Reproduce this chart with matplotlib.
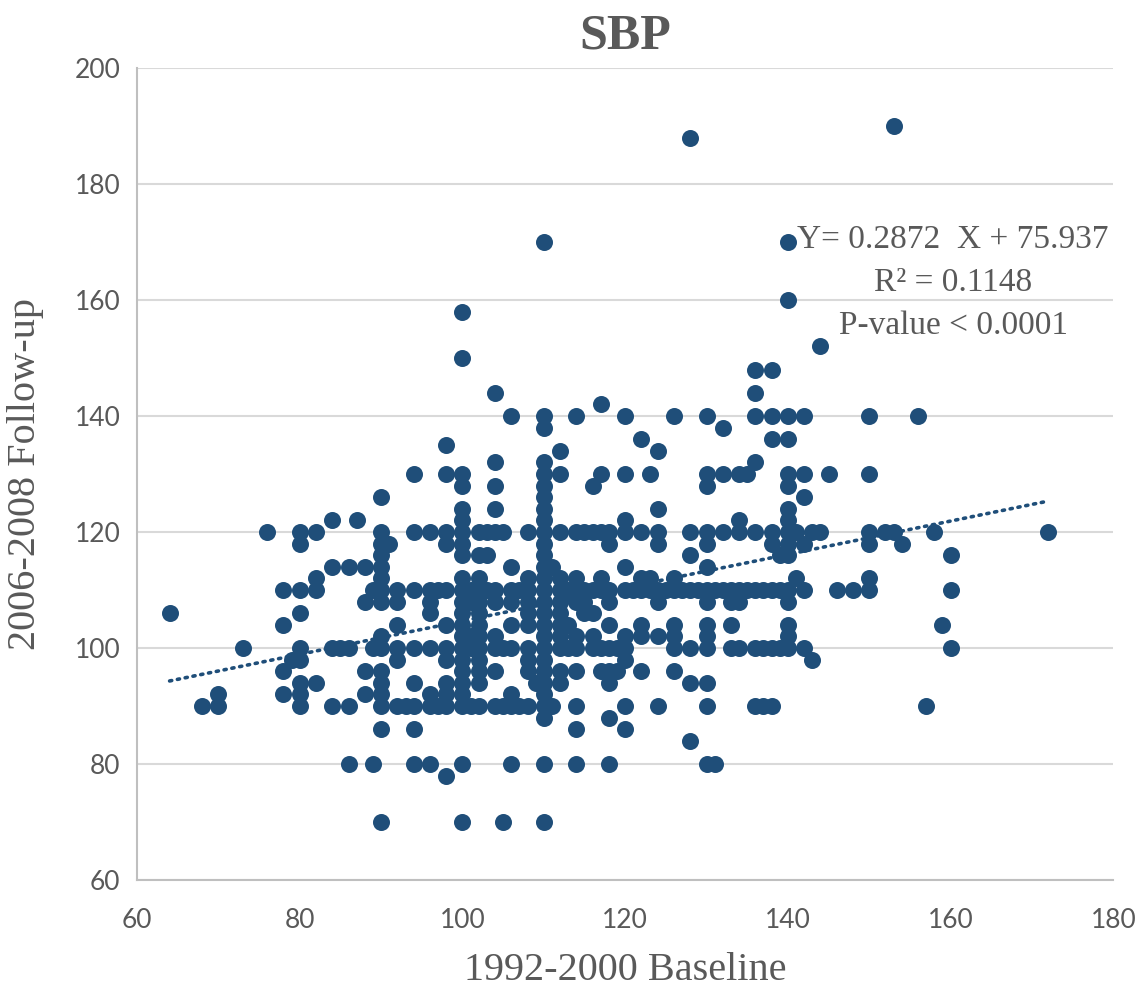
import matplotlib
matplotlib.use("Agg")
import matplotlib.pyplot as plt
import numpy as np

# Baseline SBP (x) and follow-up SBP (y)
baseline = [
    64, 68, 70, 70, 73, 76, 78, 78, 78, 78, 79,
    80, 80, 80, 80, 80, 80, 80, 80, 80,
    82, 82, 82, 82, 84, 84, 84, 84, 85, 86, 86, 86, 86, 87,
    88, 88, 88, 88, 89, 89, 89,
    90, 90, 90, 90, 90, 90, 90, 90, 90, 90, 90, 90, 90, 90, 90, 90,
    91, 92, 92, 92, 92, 92, 92, 93,
    94, 94, 94, 94, 94, 94, 94, 94,
    96, 96, 96, 96, 96, 96, 96, 96, 97, 97,
    98, 98, 98, 98, 98, 98, 98, 98, 98, 98, 98, 98,
    100, 100, 100, 100, 100, 100, 100, 100, 100, 100, 100, 100,
    100, 100, 100, 100, 100, 100, 100, 100, 100, 100, 100,
    101, 101, 101, 101, 101,
    102, 102, 102, 102, 102, 102, 102, 102, 102, 102, 102, 102, 102,
    103, 103, 103,
    104, 104, 104, 104, 104, 104, 104, 104, 104, 104, 104,
    105, 105, 105, 105,
    106, 106, 106, 106, 106, 106, 106, 106, 106, 107, 107,
    108, 108, 108, 108, 108, 108, 108, 108, 108, 108, 109,
    110, 110, 110, 110, 110, 110, 110, 110, 110, 110, 110, 110, 110, 110,
    110, 110, 110, 110, 110, 110, 110, 110, 110, 110, 110, 110, 110, 110,
    111, 111,
    112, 112, 112, 112, 112, 112, 112, 112, 112, 112, 112, 112,
    113, 113, 113,
    114, 114, 114, 114, 114, 114, 114, 114, 114, 114, 114,
    115, 115, 115, 115, 116, 116, 116, 116, 116, 116,
    117, 117, 117, 117, 117, 117, 117,
    118, 118, 118, 118, 118, 118, 118, 118, 118, 118, 119, 119,
    120, 120, 120, 120, 120, 120, 120, 120, 120, 120, 120, 121,
    122, 122, 122, 122, 122, 122, 122, 123, 123, 123,
    124, 124, 124, 124, 124, 124, 124, 124, 125,
    126, 126, 126, 126, 126, 126, 126, 127,
    128, 128, 128, 128, 128, 128, 128, 129,
    130, 130, 130, 130, 130, 130, 130, 130, 130, 130, 130, 130, 130, 130,
    131, 131, 132, 132, 132, 132, 133, 133, 133, 133,
    134, 134, 134, 134, 134, 134, 135, 135,
    136, 136, 136, 136, 136, 136, 136, 136, 137, 137, 137,
    138, 138, 138, 138, 138, 138, 138, 138, 139, 139, 139,
    140, 140, 140, 140, 140, 140, 140, 140, 140, 140, 140, 140, 140, 140,
    140, 140,
    141, 141, 142, 142, 142, 142, 142, 142, 143, 143, 144, 144, 145,
    146, 148, 150, 150, 150, 150, 150, 150, 152, 153, 153, 154, 156,
    157, 158, 159, 160, 160, 160, 172,
]
followup = [
    106, 90, 90, 92, 100, 120, 110, 104, 96, 92, 98,
    120, 118, 110, 106, 100, 98, 94, 92, 90,
    120, 112, 110, 94, 122, 114, 100, 90, 100, 114, 100, 90, 80, 122,
    114, 108, 96, 92, 110, 100, 80,
    126, 120, 118, 116, 114, 112, 110, 108, 102, 100, 96, 94, 92, 90, 86, 70,
    118, 110, 108, 104, 100, 98, 90, 90,
    130, 120, 110, 100, 94, 90, 86, 80,
    120, 110, 108, 106, 100, 92, 90, 80, 110, 90,
    135, 130, 120, 118, 110, 104, 100, 98, 94, 92, 90, 78,
    158, 150, 130, 128, 124, 122, 120, 118, 116, 112, 110, 108,
    106, 104, 102, 100, 98, 96, 94, 92, 90, 80, 70,
    110, 108, 102, 100, 90,
    120, 116, 112, 110, 108, 106, 104, 102, 100, 98, 96, 94, 90,
    120, 116, 110,
    144, 132, 128, 124, 120, 110, 108, 102, 100, 96, 90,
    120, 100, 90, 70,
    140, 114, 110, 108, 104, 100, 92, 90, 80, 110, 90,
    120, 112, 110, 108, 106, 104, 100, 98, 96, 90, 94,
    170, 140, 138, 132, 130, 128, 126, 124, 122, 120, 118, 116, 114, 112,
    110, 108, 106, 104, 102, 100, 98, 96, 94, 92, 90, 88, 80, 70,
    114, 90,
    134, 130, 120, 112, 110, 108, 106, 104, 102, 100, 96, 94,
    110, 104, 100,
    140, 120, 112, 110, 108, 102, 100, 96, 90, 86, 80,
    120, 110, 108, 106, 128, 120, 110, 106, 102, 100,
    142, 130, 120, 112, 110, 100, 96,
    120, 118, 110, 108, 104, 100, 96, 94, 88, 80, 100, 96,
    140, 130, 122, 120, 114, 110, 102, 100, 98, 90, 86, 110,
    136, 120, 112, 110, 104, 102, 96, 130, 112, 110,
    134, 124, 120, 118, 110, 108, 102, 90, 110,
    140, 112, 110, 104, 102, 100, 96, 110,
    188, 120, 116, 110, 100, 94, 84, 110,
    140, 130, 128, 120, 118, 114, 110, 108, 104, 102, 100, 94, 90, 80,
    110, 80, 138, 130, 120, 110, 110, 108, 104, 100,
    130, 122, 120, 110, 108, 100, 130, 110,
    148, 144, 140, 132, 120, 110, 100, 90, 110, 100, 90,
    148, 140, 136, 120, 118, 110, 100, 90, 116, 110, 100,
    170, 160, 140, 136, 130, 128, 124, 122, 120, 118, 116, 110, 108, 104,
    102, 100,
    120, 112, 140, 130, 126, 118, 110, 100, 120, 98, 152, 120, 130,
    110, 110, 140, 130, 120, 118, 112, 110, 120, 190, 120, 118, 140,
    90, 120, 104, 116, 110, 100, 120,
]

slope = 0.2872
intercept = 75.937
eq_lines = ["Y= 0.2872  X + 75.937", "R² = 0.1148", "P-value < 0.0001"]

x_ticks = [60, 80, 100, 120, 140, 160, 180]
y_ticks = [60, 80, 100, 120, 140, 160, 180, 200]

navy = "#1F4E79"
gray_text = "#595959"

fig = plt.figure(figsize=(11.45, 9.99), dpi=100)
ax = fig.add_axes([0.1197, 0.1191, 0.8526, 0.8128])

ax.scatter(baseline, followup, s=150, color=navy, zorder=3, linewidths=0)

# trend line across the observed baseline range
xs = np.linspace(min(baseline), max(baseline), 50)
ax.plot(xs, slope * xs + intercept, color=navy, linewidth=2.6,
        linestyle=(0, (0.6, 1.6)), dash_capstyle="round", zorder=2)

ax.set_xlim(60, 180)
ax.set_ylim(60, 200)
ax.set_xticks(x_ticks)
ax.set_yticks(y_ticks)
ax.yaxis.grid(True, color="#D9D9D9", linewidth=1.5, zorder=0)
ax.set_axisbelow(True)

for s in ["top", "right"]:
    ax.spines[s].set_visible(False)
ax.spines["left"].set_color("#BFBFBF")
ax.spines["left"].set_linewidth(1.5)
ax.spines["bottom"].set_color("#BFBFBF")
ax.spines["bottom"].set_linewidth(1.5)
ax.tick_params(axis="both", length=0, colors=gray_text, labelsize=19)
ax.tick_params(axis="y", pad=12)
ax.tick_params(axis="x", pad=20)
for lbl in ax.get_xticklabels() + ax.get_yticklabels():
    lbl.set_fontfamily("Lato")

serif = "Liberation Serif"
ax.set_title("SBP", fontsize=36, fontweight="bold", family=serif,
             color=gray_text, pad=14)
ax.set_xlabel("1992-2000 Baseline", fontsize=29, family=serif,
              color=gray_text, labelpad=14)
ax.set_ylabel("2006-2008 Follow-up", fontsize=29, family=serif,
              color=gray_text, labelpad=22)

for i, line in enumerate(eq_lines):
    ax.text(0.836, 0.788 - i * 0.053, line, transform=ax.transAxes,
            ha="center", va="center", fontsize=24, family=serif,
            color=gray_text, zorder=5)

fig.savefig("out.png", dpi=100, facecolor="white")
